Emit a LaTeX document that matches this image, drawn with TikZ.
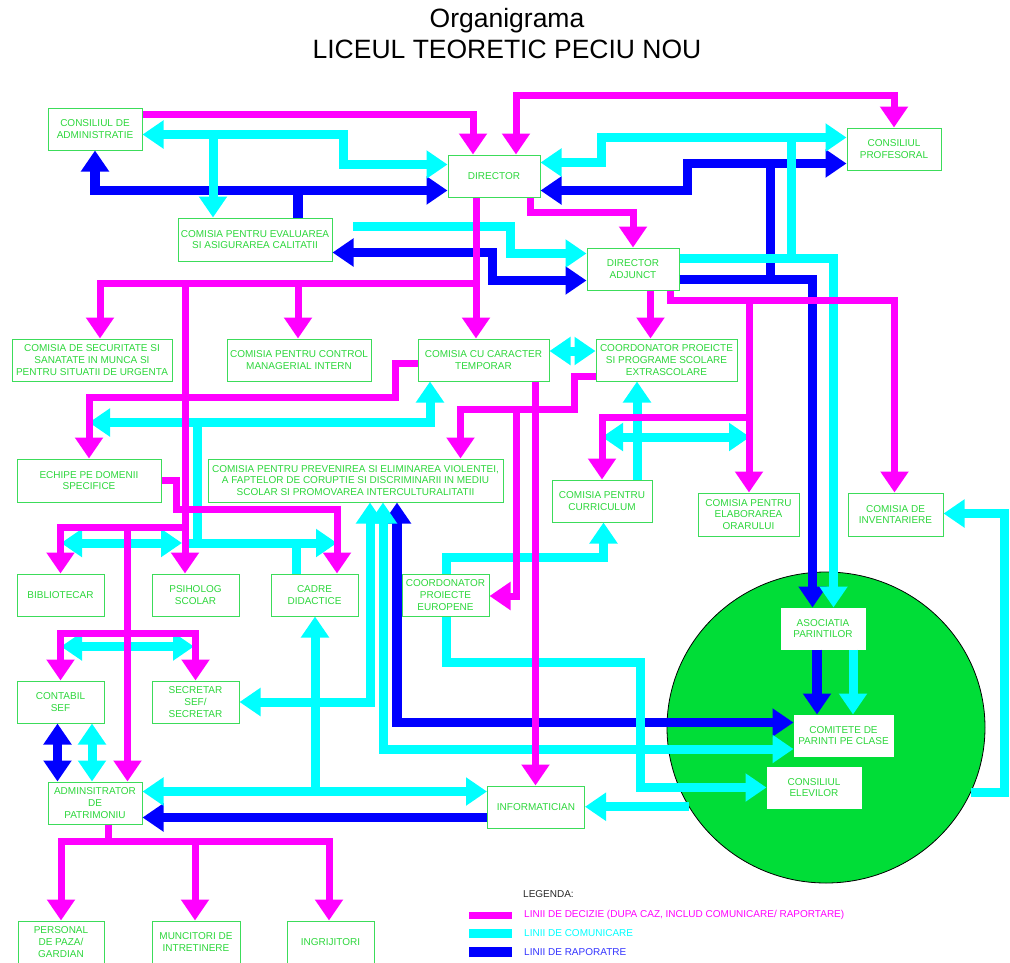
\documentclass[tikz,border=0pt]{standalone}
\usepackage{fontspec}
\setmainfont{Liberation Sans}
\usetikzlibrary{arrows.meta}
\usetikzlibrary{shapes.geometric}
\definecolor{decizie}{RGB}{255,0,255}
\definecolor{comunic}{RGB}{0,255,255}
\definecolor{raport}{RGB}{0,0,255}
\definecolor{txtgreen}{RGB}{45,215,60}
\definecolor{boxgreen}{RGB}{60,220,90}
\definecolor{pargreen}{RGB}{0,221,55}
\tikzset{
  box/.style={draw=boxgreen, line width=1pt, fill=white, text=txtgreen, align=center,
    inner xsep=2pt, inner ysep=1pt, minimum height=42pt, font=\fontsize{10}{11.7}\selectfont},
  inbox/.style={box, draw=white},
  dec/.style={draw=decizie, line width=7pt},
  com/.style={draw=comunic, line width=9pt},
  rap/.style={draw=raport, line width=9.5pt},
  legtext/.style={anchor=west, inner sep=0pt, font=\fontsize{10}{12}\selectfont},
}
\begin{document}
\begin{tikzpicture}[x=1pt, y=-1pt, >={Triangle[width=27pt,length=21pt]}]
\useasboundingbox (0,0) rectangle (1010,962);

\node[anchor=base, font=\fontsize{26.5}{30}\selectfont] (title) at (507,27) {Organigrama};
\node[anchor=base, font=\fontsize{26.5}{30}\selectfont] (liceu) at (507,58) {LICEUL TEORETIC PECIU NOU};

\node[ellipse, draw=black, line width=0.8pt, fill=pargreen, minimum width=318pt, minimum height=311pt, inner sep=0pt] (par) at (826,727.5) {};

\node[box, minimum width=94pt] (ca) at (95,129) {CONSILIUL DE\\ADMINISTRATIE};
\node[box, minimum width=92pt] (dir) at (494,176) {DIRECTOR};
\node[box, minimum width=154pt, minimum height=43pt] (ceac) at (255,239.5) {COMISIA PENTRU EVALUAREA\\SI ASIGURAREA CALITATII};
\node[box, minimum width=94pt] (cp) at (894,149) {CONSILIUL\\PROFESORAL};
\node[box, minimum width=92pt] (da) at (633,269) {DIRECTOR\\ADJUNCT};
\node[box, minimum width=160pt] (css) at (92,360) {COMISIA DE SECURITATE SI\\SANATATE IN MUNCA SI\\PENTRU SITUATII DE URGENTA};
\node[box, minimum width=144pt] (ccmi) at (299,360) {COMISIA PENTRU CONTROL\\MANAGERIAL INTERN};
\node[box, minimum width=131pt] (cct) at (483.5,360) {COMISIA CU CARACTER\\TEMPORAR};
\node[box, minimum width=141pt] (cpse) at (666.5,360) {COORDONATOR PROEICTE\\SI PROGRAME SCOLARE\\EXTRASCOLARE};
\node[box, minimum width=144pt, minimum height=43pt] (epd) at (89,480.5) {ECHIPE PE DOMENII\\SPECIFICE};
\node[box, minimum width=295pt, minimum height=43pt] (cpev) at (355.5,480.5) {COMISIA PENTRU PREVENIREA SI ELIMINAREA VIOLENTEI,\\A FAPTELOR DE CORUPTIE SI DISCRIMINARII IN MEDIU\\SCOLAR SI PROMOVAREA INTERCULTURALITATII};
\node[box, minimum width=100pt] (ccur) at (602,501) {COMISIA PENTRU\\CURRICULUM};
\node[box, minimum width=101pt, minimum height=43pt] (ceo) at (748.5,514.5) {COMISIA PENTRU\\ELABORAREA\\ORARULUI};
\node[box, minimum width=95pt, minimum height=43pt] (cinv) at (895.5,514.5) {COMISIA DE\\INVENTARIERE};
\node[box, minimum width=87pt] (bib) at (60.5,595) {BIBLIOTECAR};
\node[box, minimum width=87pt] (psi) at (195.5,595) {PSIHOLOG\\SCOLAR};
\node[box, minimum width=87pt] (cadre) at (314.5,595) {CADRE\\DIDACTICE};
\node[box, minimum width=87pt] (cpe) at (445.5,595) {COORDONATOR\\PROIECTE\\EUROPENE};
\node[box, minimum width=87pt] (cont) at (60.5,702) {CONTABIL\\SEF};
\node[box, minimum width=87pt] (secr) at (195.5,702) {SECRETAR\\SEF/\\SECRETAR};
\node[box, minimum width=94pt] (adm) at (95,803) {ADMINSITRATOR\\DE\\PATRIMONIU};
\node[box, minimum width=97pt] (inf) at (536,807) {INFORMATICIAN};
\node[box, minimum width=86pt] (paza) at (61,942) {PERSONAL\\DE PAZA/\\GARDIAN};
\node[box, minimum width=88pt] (munc) at (196,942) {MUNCITORI DE\\INTRETINERE};
\node[box, minimum width=87pt] (ingr) at (330.5,942) {INGRIJITORI};
\node[inbox, minimum width=84pt, minimum height=41pt] (ap) at (823,628.5) {ASOCIATIA\\PARINTILOR};
\node[inbox, minimum width=99pt, minimum height=41pt] (cpc) at (843.5,735.5) {COMITETE DE\\PARINTI PE CLASE};
\node[inbox, minimum width=94pt, minimum height=41pt] (cel) at (814,787.5) {CONSILIUL\\ELEVILOR};

% linii de raportare
\draw[rap,<->] (ca.south) |- (dir.west |- 0,190.5);
\draw[rap] (ceac.north -| 298,0) -- (298,190.5);
\draw[rap,<->] (dir.east |- 0,190.5) -| (687.5,163.5) -- (cp.west |- 0,163.5);
\draw[rap] (770.5,163.5) -- (770.5,279.5);
\draw[rap,->] (da.east |- 0,279.5) -| (ap.north -| 812.5,0);
\draw[rap,<->] (ceac.east |- 0,252.5) -| (492.5,280.5) -- (da.west |- 0,280.5);
\draw[rap,<->] (cpev.south -| 397,0) |- (cpc.west |- 0,722.5);
\draw[rap,->] (ap.south -| 817,0) -- (cpc.north -| 817,0);
\draw[rap,->] (inf.west |- 0,817.5) -- (adm.east |- 0,817.5);
\draw[rap,<->] (cont.south -| 57.5,0) -- (adm.north -| 57.5,0);

% linii de comunicare
\draw[com,<->] (ca.east |- 0,134.5) -| (343.5,164.5) -- (dir.west |- 0,164.5);
\draw[com,->] (213,134.5) -- (ceac.north -| 213,0);
\draw[com,<->] (dir.east |- 0,162.5) -| (601.5,137.5) -- (cp.west |- 0,137.5);
\draw[com] (791.5,137.5) -- (791.5,258.5);
\draw[com,->] (da.east |- 0,258.5) -| (ap.north -| 833.5,0);
\coordinate (ceacfree) at (353,226.5);
\draw[com,->] (ceacfree) -| (510.5,253.5) -- (da.west |- 0,253.5);
\draw[com,<->] (cct.east |- 0,351) -- (cpse.west |- 0,351);
\draw[com,<->] (cct.south -| 430,0) |- (89,422.5);
\draw[com] (197.5,422.5) -- (197.5,543);
\draw[com,<->] (61,543) -- (182,543);
\draw[com,->] (182,543) -- (337,543);
\draw[com] (296,543) -- (cadre.north -| 296,0);
\draw[com,<->] (61,646.5) -- (194,646.5);
\draw[com,<->] (cpev.south -| 370,0) |- (secr.east |- 0,702);
\draw[com,->] (315,791.5) -- (cadre.south -| 315,0);
\draw[com,<->] (cpev.south -| 383,0) |- (cpc.west |- 0,749);
\draw[com,->] (cpe.north -| 446.5,0) |- (603.5,557) -- (ccur.south -| 603.5,0);
\draw[com,->] (cpe.south -| 446.5,0) |- (640.5,662.5) |- (cel.west |- 0,787.5);
\draw[com,->] (par.210) -- (inf.east |- par.210);
\draw[com,->] (par.336) -| (1004.5,513.5) -- (cinv.east |- 0,513.5);
\draw[com,<->] (602,437) -- (750,437);
\draw[com,->] (ccur.north -| 637,0) -- (cpse.south -| 637,0);
\draw[com,<->] (adm.east |- 0,791.5) -- (inf.west |- 0,791.5);
\draw[com,<->] (cont.south -| 92,0) -- (adm.north -| 92,0);
\draw[com,->] (ap.south -| 853,0) -- (cpc.north -| 853,0);

% linii de decizie
\draw[dec,->] (ca.east |- 0,114) -| (dir.north -| 473,0);
\draw[dec,<->] (dir.north -| 516,0) |- (894,95) -- (cp.north);
\draw[dec,->] (dir.south -| 530,0) |- (633,212) -- (da.north);
\draw[dec,->] (dir.south -| 476,0) -- (cct.north -| 476,0);
\draw[dec,->] (476,283.5) -| (css.north -| 100,0);
\draw[dec,->] (298,283.5) -- (ccmi.north -| 298,0);
\draw[dec,->] (185,283.5) -- (psi.north -| 185,0);
\draw[dec,->] (185,527) -| (bib.north);
\draw[dec,->] (127.5,527) -- (adm.north -| 127.5,0);
\draw[dec,<->] (cont.north) |- (127.5,633.5) -| (secr.north);
\draw[dec,->] (epd.east) -| (176,509) -| (cadre.north -| 337,0);
\draw[dec,->] (cct.west |- 0,363) -| (395.5,397.5) -| (epd.north);
\draw[dec,->] (cpse.west |- 0,376) -| (574,409.5) -| (cpev.north -| 460.5,0);
\draw[dec,->] (516,409.5) |- (cpe.east |- 0,596);
\draw[dec,->] (cct.south -| 535.5,0) -- (inf.north -| 535.5,0);
\draw[dec,->] (da.south -| 650.5,0) -- (cpse.north -| 650.5,0);
\draw[dec,->] (da.south -| 670,0) |- (894.5,300) -- (cinv.north -| 894.5,0);
\draw[dec,->] (749,300) -- (ceo.north -| 749,0);
\draw[dec,->] (749,417.5) -| (ccur.north);
\draw[dec] (adm.south -| 108,0) -- (108,841);
\draw[dec,<->] (paza.north) |- (329,841) -- (ingr.north -| 329,0);
\draw[dec,->] (195,841) -- (munc.north -| 195,0);

% legenda
\node[legtext, text=black!85] (leg) at (523,894) {LEGENDA:};
\draw[dec] (469,915) -- (512,915);
\draw[com] (469,933.5) -- (512,933.5);
\draw[rap] (469,952) -- (512,952);
\node[legtext, text=decizie] (legdec) at (524,915) {LINII DE DECIZIE (DUPA CAZ, INCLUD COMUNICARE/ RAPORTARE)};
\node[legtext, text=comunic] (legcom) at (524,933.5) {LINII DE COMUNICARE};
\node[legtext, text=raport!80!white] (legrap) at (524,952) {LINII DE RAPORATRE};
\end{tikzpicture}
\end{document}
